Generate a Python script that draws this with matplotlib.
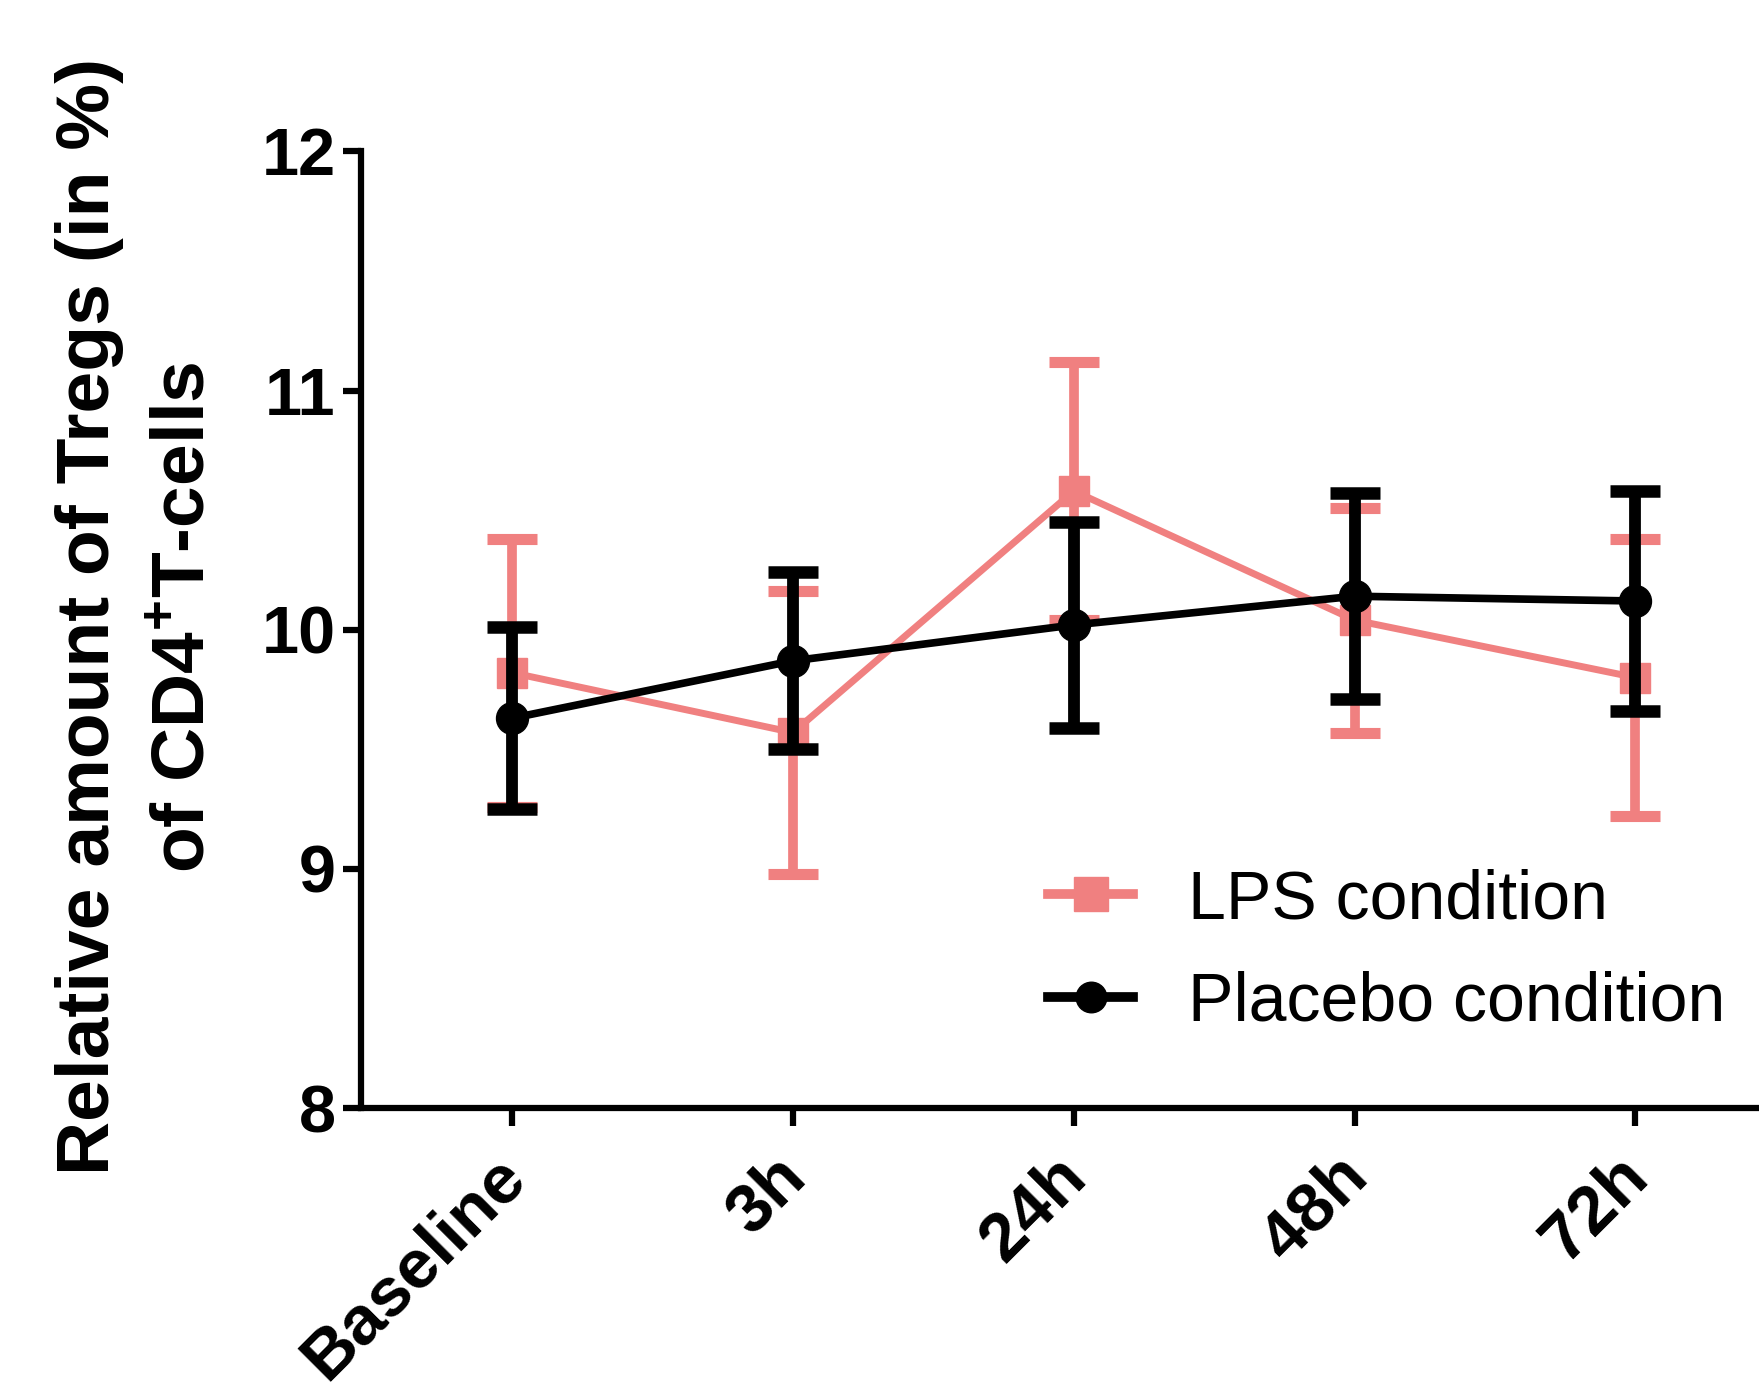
import numpy as np
import matplotlib
matplotlib.use("Agg")
import matplotlib.pyplot as plt
from matplotlib.lines import Line2D
import matplotlib.transforms as mtransforms

plt.rcParams['font.family'] = ['Liberation Sans', 'DejaVu Sans']
plt.rcParams['mathtext.fontset'] = 'custom'
plt.rcParams['mathtext.rm'] = 'Liberation Sans:bold'
plt.rcParams['mathtext.bf'] = 'Liberation Sans:bold'

# data (mean +/- SEM)
timepoints = ["Baseline", "3h", "24h", "48h", "72h"]
lps_mean = [9.82, 9.57, 10.58, 10.04, 9.80]
lps_sem = [0.56, 0.59, 0.54, 0.47, 0.58]
placebo_mean = [9.63, 9.87, 10.02, 10.14, 10.12]
placebo_sem = [0.38, 0.37, 0.43, 0.43, 0.46]
yticks = [8, 9, 10, 11, 12]

pink = '#F08080'

fig = plt.figure(figsize=(17.59, 13.89), dpi=100)
ax = fig.add_axes([0.205, 0.2023, 0.795, 0.6887])

x = np.arange(len(timepoints))

ax.errorbar(x, lps_mean, yerr=lps_sem, color=pink, lw=5, marker='s', ms=22,
            elinewidth=7, capsize=18, capthick=8, zorder=2)
ax.errorbar(x, placebo_mean, yerr=placebo_sem, color='black', lw=5.5, marker='o', ms=23,
            elinewidth=8.5, capsize=18, capthick=9, zorder=3)

ax.set_ylim(8, 12)
ax.set_xlim(-0.54, 4.44)
ax.set_yticks(yticks)
ax.set_yticklabels([str(v) for v in yticks], fontsize=48, fontweight='bold')
ax.set_xticks(x)
ax.tick_params(axis='x', labelbottom=False)

# rotated category labels, placed by hand below each tick
trans = mtransforms.blended_transform_factory(ax.transData, ax.transAxes)
trans = trans + mtransforms.ScaledTranslation(-0.20, -0.36, fig.dpi_scale_trans)
for xi, name in zip(x, timepoints):
    ax.text(xi, 0, name, transform=trans, fontsize=50, fontweight='bold',
            rotation=45, ha='right', va='top', rotation_mode='anchor')

for s in ['top', 'right']:
    ax.spines[s].set_visible(False)
for s in ['left', 'bottom']:
    ax.spines[s].set_linewidth(4.5)
ax.tick_params(axis='both', length=13, width=4.5, pad=5)

fig.text(0.078, 0.556, "Relative amount of Tregs (in %)\nof CD4$^{+}$T-cells",
         rotation=90, ha='center', va='center', multialignment='center',
         fontsize=54, fontweight='bold', linespacing=1.5)

handles = [Line2D([], [], color=pink, lw=7, marker='s', ms=24),
           Line2D([], [], color='black', lw=7, marker='o', ms=22)]
fig.legend(handles, ["LPS condition", "Placebo condition"], loc='upper left',
           bbox_to_anchor=(0.596, 0.375), frameon=False, fontsize=49,
           handlelength=1.25, handletextpad=0.8, labelspacing=0.57,
           borderpad=0, borderaxespad=0)

fig.savefig("out.png", dpi=100)
